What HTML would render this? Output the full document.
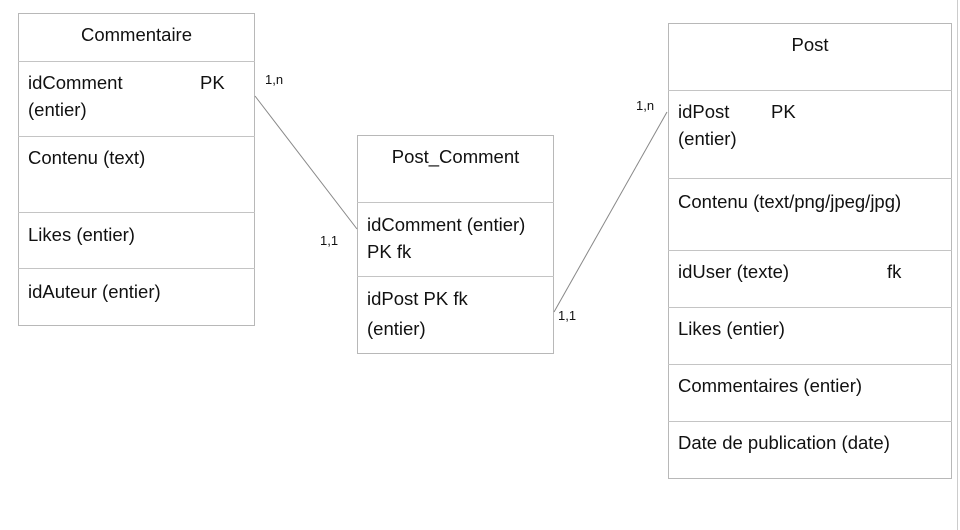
<!DOCTYPE html>
<html><head><meta charset="utf-8"><style>
body{margin:0;width:960px;height:530px;background:#fff;position:relative;overflow:hidden;font-family:"Liberation Sans",Arial,sans-serif;color:#111}
.b{position:absolute;border:1px solid #b8b8b8;box-sizing:border-box}
.h{position:absolute;height:0;border-top:1px solid #c4c4c4}
.t{position:absolute;font-size:18.5px;line-height:27px;white-space:nowrap}
.s{position:absolute;font-size:13px;white-space:nowrap}
</style></head><body>
<div class="b" style="left:18px;top:13px;width:237px;height:313px"></div>
<div class="h" style="left:18px;width:237px;top:61px"></div>
<div class="h" style="left:18px;width:237px;top:136px"></div>
<div class="h" style="left:18px;width:237px;top:212px"></div>
<div class="h" style="left:18px;width:237px;top:268px"></div>
<div class="t" style="left:18px;width:237px;text-align:center;top:21px">Commentaire</div>
<div class="t" style="left:28px;top:69px">idComment<span style="position:absolute;left:172px">PK</span><br>(entier)</div>
<div class="t" style="left:28px;top:144px">Contenu (text)</div>
<div class="t" style="left:28px;top:221px">Likes (entier)</div>
<div class="t" style="left:28px;top:278px">idAuteur (entier)</div>

<div class="b" style="left:357px;top:135px;width:197px;height:219px"></div>
<div class="h" style="left:357px;width:197px;top:202px"></div>
<div class="h" style="left:357px;width:197px;top:276px"></div>
<div class="t" style="left:357px;width:197px;text-align:center;top:143px">Post_Comment</div>
<div class="t" style="left:367px;top:211px">idComment (entier)<br>PK fk</div>
<div class="t" style="left:367px;top:284px;line-height:30px">idPost PK fk<br>(entier)</div>

<div class="b" style="left:668px;top:23px;width:284px;height:456px"></div>
<div class="h" style="left:668px;width:284px;top:90px"></div>
<div class="h" style="left:668px;width:284px;top:178px"></div>
<div class="h" style="left:668px;width:284px;top:250px"></div>
<div class="h" style="left:668px;width:284px;top:307px"></div>
<div class="h" style="left:668px;width:284px;top:364px"></div>
<div class="h" style="left:668px;width:284px;top:421px"></div>
<div class="t" style="left:668px;width:284px;text-align:center;top:31px">Post</div>
<div class="t" style="left:678px;top:98px">idPost<span style="position:absolute;left:93px">PK</span><br>(entier)</div>
<div class="t" style="left:678px;top:188px">Contenu (text/png/jpeg/jpg)</div>
<div class="t" style="left:678px;top:258px">idUser (texte)<span style="position:absolute;left:209px">fk</span></div>
<div class="t" style="left:678px;top:315px">Likes (entier)</div>
<div class="t" style="left:678px;top:372px">Commentaires (entier)</div>
<div class="t" style="left:678px;top:429px">Date de publication (date)</div>

<div style="position:absolute;left:957px;top:0;width:1px;height:530px;background:#ccc"></div>

<svg style="position:absolute;left:0;top:0" width="960" height="530">
<line x1="255" y1="96" x2="357" y2="229" stroke="#888" stroke-width="1"/>
<line x1="554" y1="312" x2="667" y2="112" stroke="#888" stroke-width="1"/>
</svg>
<div class="s" style="left:265px;top:72px">1,n</div>
<div class="s" style="left:320px;top:233px">1,1</div>
<div class="s" style="left:636px;top:98px">1,n</div>
<div class="s" style="left:558px;top:308px">1,1</div>
</body></html>
